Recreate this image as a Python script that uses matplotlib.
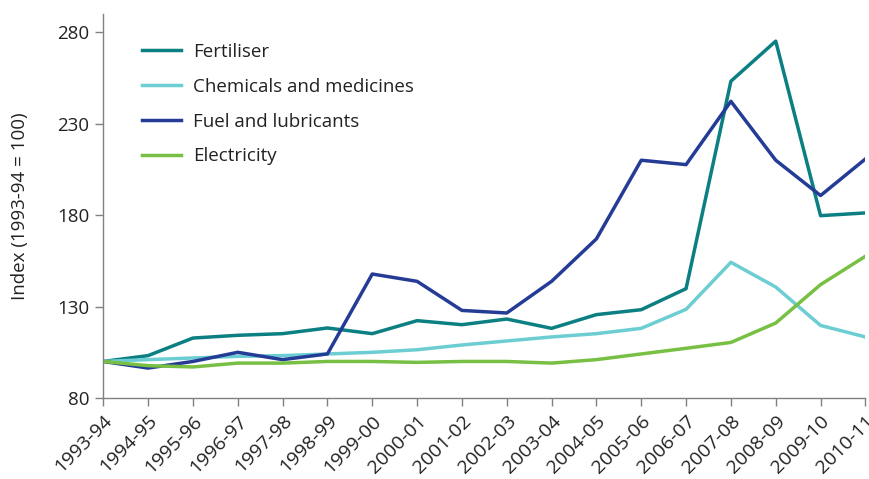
import matplotlib
matplotlib.use("Agg")
import matplotlib.pyplot as plt

years = ["1993-94", "1994-95", "1995-96", "1996-97", "1997-98", "1998-99", "1999-00",
         "2000-01", "2001-02", "2002-03", "2003-04", "2004-05", "2005-06", "2006-07",
         "2007-08", "2008-09", "2009-10", "2010-11"]
fertiliser = [100, 103.2, 112.8, 114.3, 115.2, 118.3, 115.2, 122.3, 120.1, 123.2,
              118.1, 125.6, 128.3, 139.8, 253.2, 275.1, 179.7, 181.2]
chemicals = [100, 101, 101.9, 102.8, 103.2, 104.1, 105, 106.4, 109, 111.2,
             113.4, 115.2, 118.1, 128.5, 154.2, 140.7, 119.7, 113.4]
fuel = [100, 96.4, 100, 105, 101, 104.1, 147.8, 143.8, 127.9, 126.5,
        143.8, 167, 210, 207.6, 242.2, 210, 190.7, 210.7]
electricity = [100, 97.7, 97, 99.1, 99.1, 100, 100, 99.5, 100, 100,
               99.1, 101, 104.1, 107.2, 110.4, 121, 142, 157.5]
yticks = [80, 130, 180, 230, 280]

plt.rcParams['font.family'] = ['Open Sans', 'DejaVu Sans']

fig = plt.figure(figsize=(8.7, 4.79), dpi=100)
ax = fig.add_axes([0.1187, 0.169, 0.876, 0.802])

x = list(range(len(years)))
lw = 2.5
ax.plot(x, fertiliser, color="#0b7f82", lw=lw, label="Fertiliser")
ax.plot(x, chemicals, color="#6ccdd3", lw=lw, label="Chemicals and medicines")
ax.plot(x, fuel, color="#243c96", lw=lw, label="Fuel and lubricants")
ax.plot(x, electricity, color="#77c043", lw=lw, label="Electricity")

ax.set_xlim(0, len(years) - 1)
ax.set_ylim(80, 290)
ax.set_yticks(yticks)
ax.set_xticks(x)
ax.set_xticklabels(years, rotation=45, ha="right", rotation_mode="anchor")

for s in ["top", "right"]:
    ax.spines[s].set_visible(False)
for s in ["left", "bottom"]:
    ax.spines[s].set_color("#808080")
    ax.spines[s].set_linewidth(1.0)
ax.tick_params(axis="both", colors="#808080", labelcolor="#222222", labelsize=13.5,
               length=6, width=1.0, direction="out")
ax.tick_params(axis="x", pad=4, labelsize=14)
ax.tick_params(axis="y", pad=4)
ax.set_ylabel("Index (1993-94 = 100)", fontsize=13.5, color="#222222", labelpad=20)

leg = ax.legend(loc="upper left", bbox_to_anchor=(0.0386, 0.949), frameon=False,
                fontsize=13.5, handlelength=2.1, handletextpad=0.6, labelspacing=0.9,
                borderpad=0)
for t in leg.get_texts():
    t.set_color("#222222")

fig.savefig("out.png", dpi=100)
